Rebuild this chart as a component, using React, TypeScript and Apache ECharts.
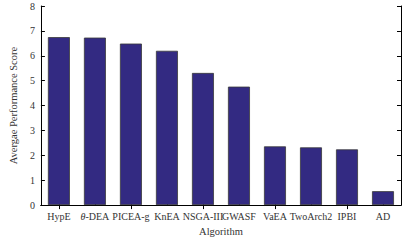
import React, { useEffect, useRef } from "react";
import * as echarts from "echarts";

const categories = ["HypE", "θ-DEA", "PICEA-g", "KnEA", "NSGA-III", "GWASF", "VaEA", "TwoArch2", "IPBI", "AD"];
const scores = [6.75, 6.73, 6.49, 6.2, 5.31, 4.76, 2.36, 2.32, 2.24, 0.56];
const yTicks = { min: 0, max: 8, interval: 1 };

const FONT = "Liberation Serif";
const TXT = "#333";

export default function App() {
  const ref = useRef<HTMLDivElement>(null);
  useEffect(() => {
    if (!ref.current) return;
    const chart = echarts.init(ref.current, null, { renderer: "svg" });
    const axisLine = { show: true, lineStyle: { color: "#000", width: 1 } };
    chart.setOption({
      animation: false,
      grid: { left: 38, right: 14, top: 6, bottom: 30 },
      xAxis: [
        {
          type: "category",
          data: categories,
          position: "bottom",
          axisLine,
          axisTick: { show: true, inside: true, alignWithLabel: true, length: 4, lineStyle: { color: "#000" } },
          axisLabel: {
            interval: 0,
            color: TXT,
            fontFamily: FONT,
            fontSize: 10,
            margin: 6,
            hideOverlap: false,
            formatter: (v: string) => (v.startsWith("θ") ? "{i|θ}" + v.slice(1) : v),
            rich: { i: { fontStyle: "italic", fontFamily: FONT, fontSize: 10, color: TXT } },
          },
          name: "Algorithm",
          nameLocation: "middle",
          nameGap: 18,
          nameTextStyle: { fontFamily: FONT, fontSize: 10.5, color: TXT },
        },
        {
          type: "category",
          data: categories,
          position: "top",
          axisLine,
          axisTick: { show: true, inside: true, alignWithLabel: true, length: 4, lineStyle: { color: "#000" } },
          axisLabel: { show: false },
        },
      ],
      yAxis: [
        {
          type: "value",
          min: yTicks.min,
          max: yTicks.max,
          interval: yTicks.interval,
          position: "left",
          axisLine,
          axisTick: { show: true, inside: true, length: 4, lineStyle: { color: "#000" } },
          splitLine: { show: false },
          axisLabel: { color: TXT, fontFamily: FONT, fontSize: 10, margin: 6 },
          name: "Avergae Performance Score",
          nameLocation: "middle",
          nameGap: 12,
          nameTextStyle: { fontFamily: FONT, fontSize: 10.5, color: TXT },
        },
        {
          type: "value",
          min: yTicks.min,
          max: yTicks.max,
          interval: yTicks.interval,
          position: "right",
          axisLine,
          axisTick: { show: true, inside: true, length: 4, lineStyle: { color: "#000" } },
          splitLine: { show: false },
          axisLabel: { show: false },
        },
      ],
      series: [
        {
          type: "bar",
          data: scores,
          xAxisIndex: 0,
          yAxisIndex: 0,
          barWidth: "61%",
          itemStyle: { color: "#332a82", borderColor: "#3a3a3a", borderWidth: 0.8 },
        },
      ],
    });
    return () => chart.dispose();
  }, []);
  return <div ref={ref} style={{ width: 415, height: 242, position: "absolute", left: 0, top: 0 }} />;
}
